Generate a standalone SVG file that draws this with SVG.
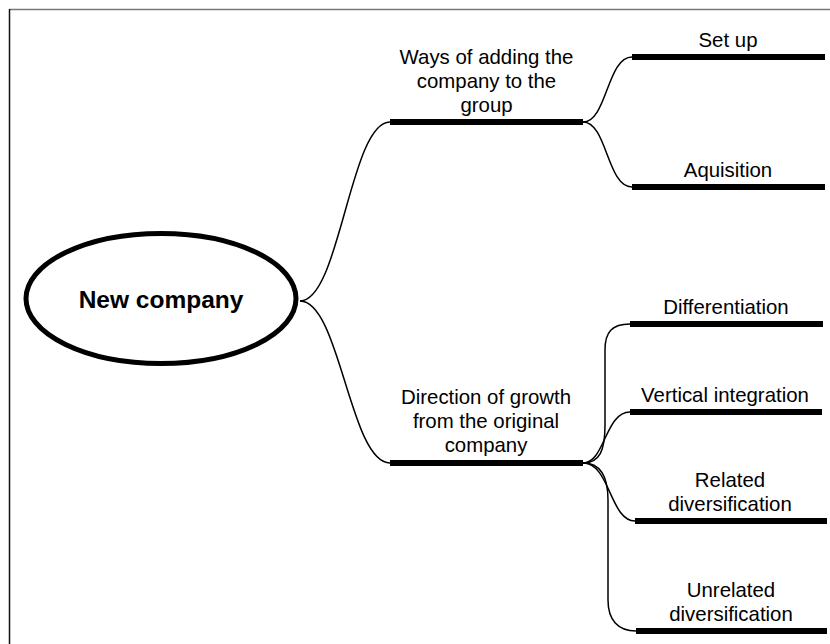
<svg xmlns="http://www.w3.org/2000/svg" width="830" height="644" viewBox="0 0 830 644">
<style>
text{font-family:"Liberation Sans",Arial,sans-serif;font-size:20.4px;fill:#000;text-anchor:middle}
.bar{stroke:#000;stroke-width:6;fill:none}
.con{stroke:#000;stroke-width:1.5;fill:none}
</style>
<rect x="0" y="0" width="830" height="644" fill="#fff"/>
<g id="frame">
<line x1="9" y1="9.5" x2="830" y2="9.5" stroke="#777" stroke-width="1.5"/>
<line x1="9.5" y1="9" x2="9.5" y2="644" stroke="#111" stroke-width="1.5"/>
</g>
<g id="connectors">
<path class="con" d="M300,301 C340,301 350,122 390,122"/>
<path class="con" d="M300,301 C340,301 350,463 390,463"/>
<path class="con" d="M583,122 C607,122 607,57 632,57"/>
<path class="con" d="M583,122 C607,122 607,187 632,187"/>
<path class="con" d="M583,463 C600,463 605,450 605,425 L605,350 C605,332 612,324 630,324"/>
<path class="con" d="M583,463 C605,463 605,412 630,412"/>
<path class="con" d="M583,463 C610,463 610,521 635,521"/>
<path class="con" d="M583,463 C600,463 608,475 608,500 L608,600 C608,620 618,631 636,631"/>
</g>
<g id="new-company">
<ellipse cx="161" cy="298.5" rx="135" ry="65" fill="#fff" stroke="#000" stroke-width="5"/>
<text x="161" y="308" style="font-size:24.5px;font-weight:bold">New company</text>
</g>
<g id="ways">
<line class="bar" x1="390" y1="122" x2="583" y2="122"/>
<text x="486.5" y="64">Ways of adding the</text>
<text x="486.5" y="88">company to the</text>
<text x="486.5" y="112">group</text>
</g>
<g id="direction">
<line class="bar" x1="390" y1="463" x2="583" y2="463"/>
<text x="486" y="404">Direction of growth</text>
<text x="486" y="428">from the original</text>
<text x="486" y="452">company</text>
</g>
<g id="setup">
<line class="bar" x1="632" y1="57" x2="825" y2="57"/>
<text x="728" y="47">Set up</text>
</g>
<g id="aquisition">
<line class="bar" x1="632" y1="187" x2="825" y2="187"/>
<text x="728" y="177">Aquisition</text>
</g>
<g id="differentiation">
<line class="bar" x1="630" y1="324" x2="823" y2="324"/>
<text x="726" y="313.5">Differentiation</text>
</g>
<g id="vertical">
<line class="bar" x1="630" y1="412" x2="822" y2="412"/>
<text x="725" y="402">Vertical integration</text>
</g>
<g id="related">
<line class="bar" x1="635" y1="521" x2="827" y2="521"/>
<text x="730" y="487">Related</text>
<text x="730" y="510.5">diversification</text>
</g>
<g id="unrelated">
<line class="bar" x1="636" y1="631" x2="827" y2="631"/>
<text x="731" y="597">Unrelated</text>
<text x="731" y="621">diversification</text>
</g>
</svg>
